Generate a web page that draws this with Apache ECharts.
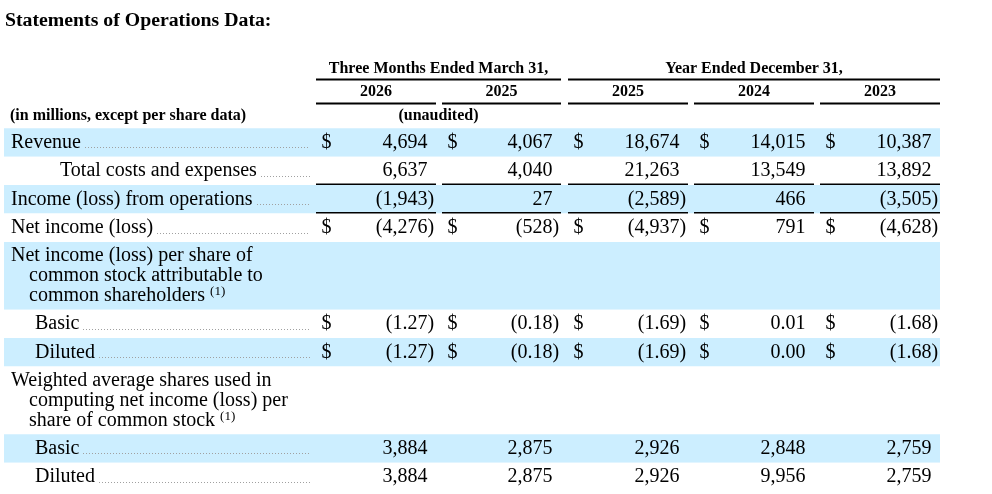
<!DOCTYPE html>
<html><head><meta charset="utf-8">
<script src="https://cdn.jsdelivr.net/npm/echarts@6/dist/echarts.min.js"></script>
<style>html,body{margin:0;padding:0;background:#fff}#c{width:992px;height:494px}</style>
</head><body><div id="c"></div>
<script>
// ---------- content ----------
const tableTitle = 'Statements of Operations Data:';
const unitNote = '(in millions, except per share data)';
const auditNote = '(unaudited)';
const periodGroups = ['Three Months Ended March 31,', 'Year Ended December 31,'];
const periodYears = ['2026', '2025', '2025', '2024', '2023'];
const footnoteMark = '(1)';
const rowLabels = [
  ['Revenue'],
  ['Total costs and expenses'],
  ['Income (loss) from operations'],
  ['Net income (loss)'],
  ['Net income (loss) per share of', 'common stock attributable to', 'common shareholders'],
  ['Basic'],
  ['Diluted'],
  ['Weighted average shares used in', 'computing net income (loss) per', 'share of common stock'],
  ['Basic'],
  ['Diluted']
];
const revenue = [4694, 4067, 18674, 14015, 10387];
const totalCosts = [6637, 4040, 21263, 13549, 13892];
const incomeFromOps = [-1943, 27, -2589, 466, -3505];
const netIncome = [-4276, -528, -4937, 791, -4628];
const epsBasic = [-1.27, -0.18, -1.69, 0.01, -1.68];
const epsDiluted = [-1.27, -0.18, -1.69, 0.00, -1.68];
const sharesBasic = [3884, 2875, 2926, 2848, 2759];
const sharesDiluted = [3884, 2875, 2926, 9956, 2759];

// ---------- row structure ----------
const rowSpec = [
  { values: revenue, dec: 0, dollar: true, shade: true, indent: 0, rule: false, foot: false },
  { values: totalCosts, dec: 0, dollar: false, shade: false, indent: 2, rule: true, foot: false },
  { values: incomeFromOps, dec: 0, dollar: false, shade: true, indent: 0, rule: true, foot: false },
  { values: netIncome, dec: 0, dollar: true, shade: false, indent: 0, rule: false, foot: false },
  { values: null, shade: true, indent: 0, foot: true },
  { values: epsBasic, dec: 2, dollar: true, shade: false, indent: 1, rule: false, foot: false },
  { values: epsDiluted, dec: 2, dollar: true, shade: true, indent: 1, rule: false, foot: false },
  { values: null, shade: false, indent: 0, foot: true },
  { values: sharesBasic, dec: 0, dollar: false, shade: true, indent: 1, rule: false, foot: false },
  { values: sharesDiluted, dec: 0, dollar: false, shade: false, indent: 1, rule: false, foot: false }
];

// ---------- layout / style ----------
const FONT_FAMILY = '"Liberation Serif", "Times New Roman", Times, serif';
const BODY_FONT = 'normal 20px ' + FONT_FAMILY;
const SUP_FONT = 'normal 13px ' + FONT_FAMILY;
const HEAD_FONT = 'bold 16px ' + FONT_FAMILY;
const TITLE_FONT = 'bold 19.8px ' + FONT_FAMILY;
const SHADE = '#cceeff';
const INK = '#000';
const colStart = [316, 442, 568, 694, 820];
const colWidth = [120, 119, 120, 120, 120];
const groupCols = [[0, 1], [2, 4]];
const bandLeft = 4, bandRight = 940;
const tableTop = 128.3, singleH = 28.4, multiH = 67.8;
const indentX = [11, 35, 60];
const contX = 29;
const leaderEnd = 310;

const measureCtx = document.createElement('canvas').getContext('2d');
function textWidth(t, font) { measureCtx.font = font; return measureCtx.measureText(t).width; }

function fmt(v, dec) {
  const s = Math.abs(v).toLocaleString('en-US', { minimumFractionDigits: dec, maximumFractionDigits: dec });
  return { body: (v < 0 ? '(' : '') + s, neg: v < 0 };
}

const rowTops = [];
(function () { let y = tableTop; rowLabels.forEach(function (l) { rowTops.push(y); y += (l.length > 1 ? multiH : singleH); }); })();
function rowHeight(i) { return rowLabels[i].length > 1 ? multiH : singleH; }

const chart = echarts.init(document.getElementById('c'), null, { renderer: 'canvas' });

function P(api, x, y) { return api.coord([x, y]); }

function renderHeader(params, api) {
  const kids = [];
  let p = P(api, 5, 20.5);
  kids.push({ type: 'text', style: { text: tableTitle, x: p[0], y: p[1], font: TITLE_FONT, fill: INK, verticalAlign: 'middle', align: 'left' } });
  groupCols.forEach(function (g, gi) {
    const x0 = colStart[g[0]], x1 = colStart[g[1]] + colWidth[g[1]];
    let c = P(api, (x0 + x1) / 2, 69);
    kids.push({ type: 'text', style: { text: periodGroups[gi], x: c[0], y: c[1], font: HEAD_FONT, fill: INK, align: 'center', verticalAlign: 'middle' } });
    const a = P(api, x0, 79.5), b = P(api, x1, 79.5);
    kids.push({ type: 'line', shape: { x1: a[0], y1: a[1], x2: b[0], y2: b[1] }, style: { stroke: INK, lineWidth: 2 } });
  });
  periodYears.forEach(function (yr, i) {
    const x0 = colStart[i], x1 = colStart[i] + colWidth[i];
    let c = P(api, (x0 + x1) / 2, 92);
    kids.push({ type: 'text', style: { text: yr, x: c[0], y: c[1], font: HEAD_FONT, fill: INK, align: 'center', verticalAlign: 'middle' } });
    const a = P(api, x0, 103.5), b = P(api, x1, 103.5);
    kids.push({ type: 'line', shape: { x1: a[0], y1: a[1], x2: b[0], y2: b[1] }, style: { stroke: INK, lineWidth: 2 } });
  });
  p = P(api, 10, 116);
  kids.push({ type: 'text', style: { text: unitNote, x: p[0], y: p[1], font: HEAD_FONT, fill: INK, verticalAlign: 'middle' } });
  const g0 = groupCols[0];
  p = P(api, (colStart[g0[0]] + colStart[g0[1]] + colWidth[g0[1]]) / 2, 116);
  kids.push({ type: 'text', style: { text: auditNote, x: p[0], y: p[1], font: HEAD_FONT, fill: INK, align: 'center', verticalAlign: 'middle' } });
  return { type: 'group', children: kids };
}

function renderRow(params, api) {
  const i = api.value(0);
  const spec = rowSpec[i];
  const labels = rowLabels[i];
  const top = rowTops[i], h = rowHeight(i);
  const kids = [];
  const fill = spec.shade ? SHADE : '#fff';
  const tl = P(api, bandLeft, top), br = P(api, bandRight, top + h);
  kids.push({ type: 'rect', shape: { x: tl[0], y: tl[1], width: br[0] - tl[0], height: br[1] - tl[1] }, style: { fill: fill } });
  if (labels.length === 1) {
    const mid = top + h / 2;
    const lx = indentX[spec.indent];
    let p = P(api, lx, mid);
    kids.push({ type: 'text', style: { text: labels[0], x: p[0], y: p[1], font: BODY_FONT, fill: INK, verticalAlign: 'middle' } });
    const w = textWidth(labels[0], BODY_FONT);
    const a = P(api, lx + w + 4, mid + 4.8), b = P(api, leaderEnd, mid + 4.8);
    const dy = Math.round(a[1]) + 0.5;
    kids.push({ type: 'line', shape: { x1: Math.round(a[0]), y1: dy, x2: b[0], y2: dy }, style: { stroke: '#a0a0a0', lineWidth: 1, lineDash: [1, 2] } });
    spec.values.forEach(function (v, c) {
      const right = colStart[c] + colWidth[c] - 8.5;
      if (spec.dollar) {
        const d = P(api, colStart[c] + 5.5, mid);
        kids.push({ type: 'text', style: { text: '$', x: d[0], y: d[1], font: BODY_FONT, fill: INK, verticalAlign: 'middle' } });
      }
      const f = fmt(v, spec.dec);
      const q = P(api, right, mid);
      kids.push({ type: 'text', style: { text: f.body, x: q[0], y: q[1], font: BODY_FONT, fill: INK, align: 'right', verticalAlign: 'middle' } });
      if (f.neg) {
        kids.push({ type: 'text', style: { text: ')', x: q[0], y: q[1], font: BODY_FONT, fill: INK, align: 'left', verticalAlign: 'middle' } });
      }
      if (spec.rule) {
        const ra = P(api, colStart[c], top + h - 0.5), rb = P(api, colStart[c] + colWidth[c], top + h - 0.5);
        kids.push({ type: 'line', shape: { x1: ra[0], y1: ra[1], x2: rb[0], y2: rb[1] }, style: { stroke: INK, lineWidth: 2 } });
      }
    });
  } else {
    labels.forEach(function (t, k) {
      const lx = k === 0 ? indentX[0] : contX;
      const y = top + 13.8 + k * 20.2;
      const p = P(api, lx, y);
      kids.push({ type: 'text', style: { text: t, x: p[0], y: p[1], font: BODY_FONT, fill: INK, verticalAlign: 'middle' } });
      if (spec.foot && k === labels.length - 1) {
        const w = textWidth(t + ' ', BODY_FONT);
        const s = P(api, lx + w, y - 4.5);
        kids.push({ type: 'text', style: { text: footnoteMark, x: s[0], y: s[1], font: SUP_FONT, fill: INK, verticalAlign: 'middle' } });
      }
    });
  }
  return { type: 'group', children: kids };
}

chart.setOption({
  animation: false,
  backgroundColor: '#fff',
  grid: { left: 0, right: 0, top: 0, bottom: 0 },
  xAxis: { type: 'value', min: 0, max: 992, show: false },
  yAxis: { type: 'value', min: 0, max: 494, inverse: true, show: false },
  tooltip: { show: false },
  series: [
    { type: 'custom', coordinateSystem: 'cartesian2d', silent: true, clip: false, renderItem: renderRow,
      data: rowLabels.map(function (_, i) { return [i]; }), encode: { x: 0, y: 0 } },
    { type: 'custom', coordinateSystem: 'cartesian2d', silent: true, clip: false, renderItem: renderHeader,
      data: [[0]], encode: { x: 0, y: 0 } }
  ]
});
</script>
</body></html>
